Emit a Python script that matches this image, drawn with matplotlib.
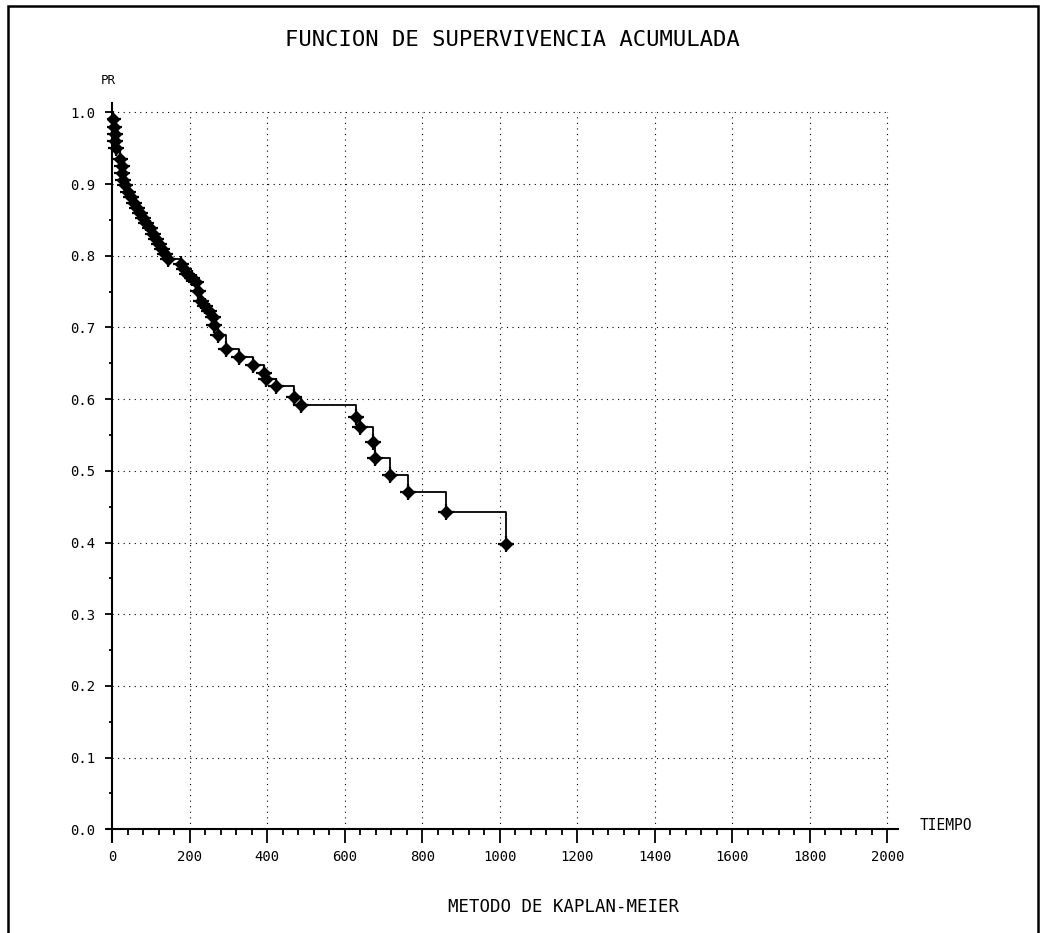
import numpy as np
import matplotlib.pyplot as plt
from matplotlib.ticker import MultipleLocator
from matplotlib.patches import Rectangle

# event times and cumulative survival
tiempo = [2, 4, 6, 8, 10, 20, 24, 26, 28, 32,
          40, 48, 56, 64, 72, 80, 88, 96, 104, 112, 120, 128, 136, 143,
          176, 184, 192,
          205, 215, 222, 229, 240, 250, 259, 263, 272, 293, 327, 362, 392,
          396, 422, 469, 487, 630, 640, 673, 678, 716, 764, 860, 1017]
superv = [0.99, 0.98, 0.97, 0.96, 0.95, 0.935, 0.925, 0.915, 0.905, 0.898,
          0.889, 0.882, 0.874, 0.866, 0.859, 0.852, 0.845, 0.838, 0.830, 0.823,
          0.816, 0.809, 0.802, 0.795,
          0.788, 0.781, 0.774,
          0.769, 0.763, 0.751, 0.737, 0.730, 0.723, 0.714, 0.703, 0.689, 0.670,
          0.659, 0.647, 0.637, 0.628, 0.619, 0.603, 0.592, 0.575, 0.561, 0.540,
          0.518, 0.494, 0.470, 0.443, 0.398]

x_ticks = [0, 200, 400, 600, 800, 1000, 1200, 1400, 1600, 1800, 2000]
y_ticks = [0.0, 0.1, 0.2, 0.3, 0.4, 0.5, 0.6, 0.7, 0.8, 0.9, 1.0]

mono = "DejaVu Sans Mono"

fig = plt.figure(figsize=(10.43, 9.33), dpi=100)
ax = fig.add_axes([0.1025, 0.0988, 0.7587, 0.7908])

# dotted grid, only inside the 0..2000 / 0..1 box
dots = (0, (1, 4))
ax.hlines(y_ticks[1:], 0, 2000, colors="black", linestyles=dots, linewidth=0.8)
ax.vlines(x_ticks[1:], 0, 1.0, colors="black", linestyles=dots, linewidth=0.8)

# Kaplan-Meier step curve with a blob at every event
t = np.concatenate([[0], tiempo])
s = np.concatenate([[1.0], superv])
ax.step(t, s, where="post", color="black", linewidth=1.3, zorder=3)
ax.plot(tiempo, superv, linestyle="none", marker="D", markersize=6,
        color="black", zorder=4)
ax.plot(tiempo, superv, linestyle="none", marker="+", markersize=12,
        markeredgewidth=1.6, color="black", zorder=4)

ax.set_xlim(-14, 2028)
ax.set_ylim(-0.016, 1.013)

for side in ["top", "right"]:
    ax.spines[side].set_visible(False)
ax.spines["left"].set_position(("data", 0))
ax.spines["bottom"].set_position(("data", 0))
ax.spines["left"].set_linewidth(1.5)
ax.spines["bottom"].set_linewidth(1.5)

ax.set_xticks(x_ticks)
ax.set_xticklabels([str(v) for v in x_ticks], fontfamily=mono, fontsize=10)
ax.set_yticks(y_ticks)
ax.set_yticklabels([f"{v:.1f}" for v in y_ticks], fontfamily=mono, fontsize=10)
ax.xaxis.set_minor_locator(MultipleLocator(40))
ax.yaxis.set_minor_locator(MultipleLocator(0.05))
ax.tick_params(axis="x", which="major", direction="out", length=10, width=1.3, pad=5)
ax.tick_params(axis="x", which="minor", direction="out", length=4.5, width=1.3)
ax.tick_params(axis="y", which="major", direction="out", length=5, width=1.3, pad=7)
ax.tick_params(axis="y", which="minor", direction="out", length=2.5, width=1.3)

fig.text(0.491, 0.957, "FUNCION DE SUPERVIVENCIA ACUMULADA", fontfamily=mono,
         fontsize=16, ha="center", va="center")
fig.text(108 / 1043, 1 - 80 / 933, "PR", fontfamily=mono, fontsize=9,
         ha="center", va="center")
fig.text(920 / 1043, 1 - 826 / 933, "TIEMPO", fontfamily=mono, fontsize=10.5,
         ha="left", va="center")
fig.text(564 / 1043, 1 - 907 / 933, "METODO DE KAPLAN-MEIER", fontfamily=mono,
         fontsize=12.5, ha="center", va="center")

# page border (bottom edge runs off the page)
fig.patches.append(Rectangle((8 / 1043, -0.05), 1030 / 1043, 1 - 6 / 933 + 0.05,
                             transform=fig.transFigure, fill=False,
                             edgecolor="black", linewidth=1.8))

plt.savefig("out.png", dpi=100)
